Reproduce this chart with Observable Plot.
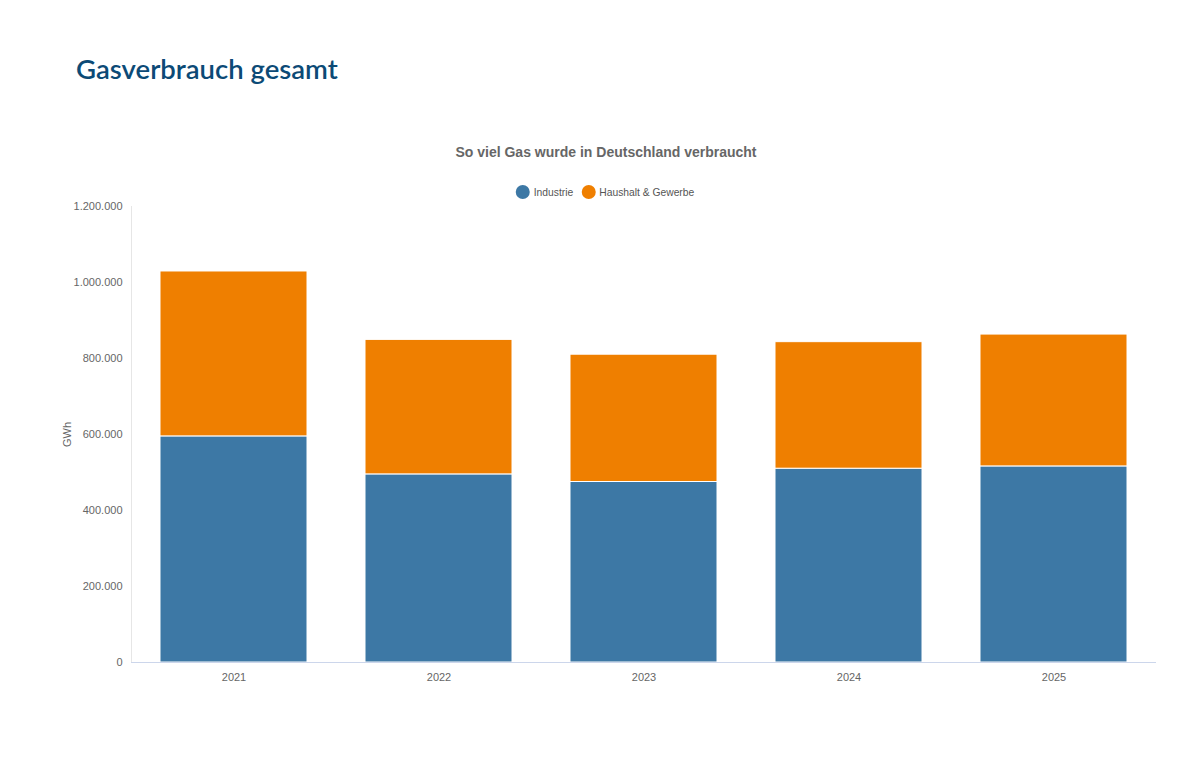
<!DOCTYPE html>
<html>
<head>
<meta charset="utf-8">
<script src="https://cdn.jsdelivr.net/npm/d3@7"></script>
<script src="https://cdn.jsdelivr.net/npm/@observablehq/plot@0.6"></script>
<style>
  html, body { margin: 0; padding: 0; background: #fff; width: 1200px; height: 780px; overflow: hidden; position: relative; }
  #title { position: absolute; left: 76px; top: 52px; font-family: Lato, "Open Sans", sans-serif; font-weight: 600; font-size: 27.5px; color: #0c4a76; letter-spacing: 0; }
  #subtitle { position: absolute; left: 606px; top: 144px; transform: translateX(-50%); font-family: "Liberation Sans", Arial, sans-serif; font-weight: bold; font-size: 14px; color: #666; white-space: nowrap; }
  #legend { position: absolute; left: 605px; top: 185px; transform: translateX(-50%); display: flex; align-items: center; font-family: "Liberation Sans", Arial, sans-serif; font-size: 10.3px; color: #555; white-space: nowrap; }
  .item { display: flex; align-items: center; margin: 0 4px; }
  .dot { width: 14px; height: 14px; border-radius: 50%; margin-right: 4px; }
  #chart { position: absolute; left: 0; top: 200px; }
</style>
</head>
<body>
<div id="title">Gasverbrauch gesamt</div>
<div id="subtitle">So viel Gas wurde in Deutschland verbraucht</div>
<div id="legend"></div>
<div id="chart"></div>
<script>
const years = ["2021", "2022", "2023", "2024", "2025"];
const seriesNames = ["Industrie", "Haushalt & Gewerbe"];
const industrie = [595000, 495000, 475000, 510000, 516000];
const haushalt = [434000, 354000, 335000, 333000, 347000];
const yTicks = [0, 200000, 400000, 600000, 800000, 1000000, 1200000];
const colors = ["#3d78a5", "#ef7f00"];

const data = [];
years.forEach((y, i) => {
  data.push({ year: y, series: seriesNames[0], value: industrie[i] });
  data.push({ year: y, series: seriesNames[1], value: haushalt[i] });
});

const de = d3.formatLocale({ decimal: ",", thousands: ".", grouping: [3], currency: ["", " €"] });
const fmt = de.format(",d");

// legend
const legend = document.getElementById("legend");
seriesNames.forEach((s, i) => {
  const it = document.createElement("div");
  it.className = "item";
  const d = document.createElement("span");
  d.className = "dot";
  d.style.background = colors[i];
  const t = document.createElement("span");
  t.textContent = s;
  it.appendChild(d); it.appendChild(t);
  legend.appendChild(it);
});

const plot = Plot.plot({
  width: 1200,
  height: 520,
  marginTop: 6,
  marginBottom: 58,
  marginLeft: 131,
  marginRight: 44,
  style: { fontFamily: "'Liberation Sans', Arial, sans-serif", fontSize: "11px", color: "#666", background: "#fff" },
  x: { domain: years, paddingInner: 0.283, paddingOuter: 0.1415 },
  y: { domain: [0, 1200000] },
  color: { domain: seriesNames, range: colors },
  marks: [
    Plot.frame({ anchor: "left", stroke: "#e6e6e6", strokeOpacity: 1 }),
    Plot.barY(data, { x: "year", y: "value", fill: "series", stroke: "#fff", strokeWidth: 1, order: seriesNames }),
    Plot.ruleY([0], { stroke: "#ccd6eb" }),
    Plot.axisY({ ticks: yTicks, tickFormat: fmt, tickSize: 0, tickPadding: 9, label: "GWh", labelAnchor: "center", labelArrow: "none", labelOffset: 68, fill: "#666" }),
    Plot.axisX({ tickSize: 0, tickPadding: 11, label: null, fill: "#666" })
  ]
});
document.getElementById("chart").appendChild(plot);
</script>
</body>
</html>
